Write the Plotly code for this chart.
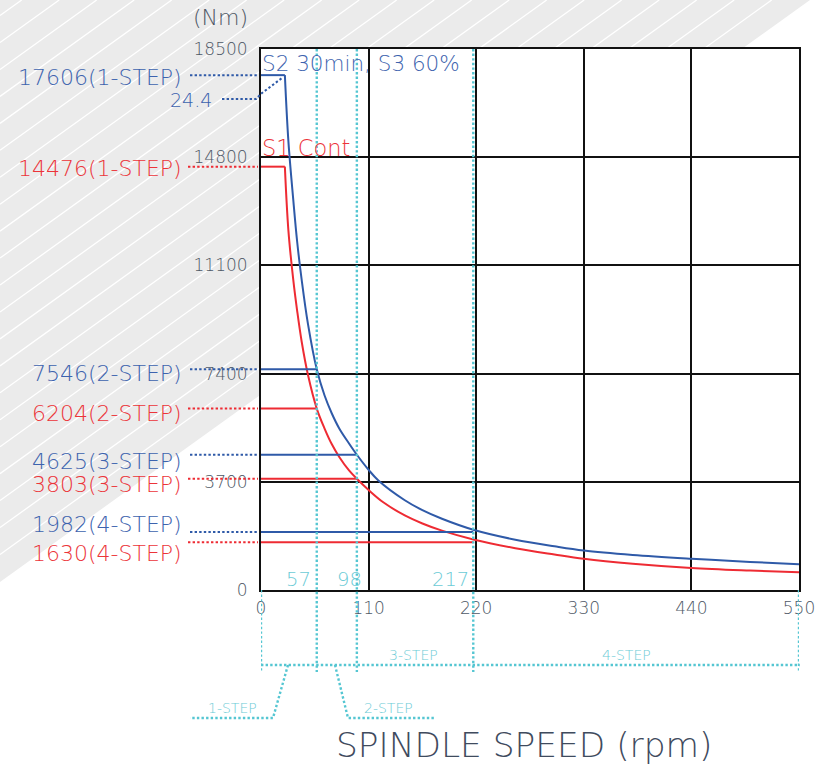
import plotly.graph_objects as go

# ---- data -------------------------------------------------------------
steps = ["1-STEP", "2-STEP", "3-STEP", "4-STEP"]
step_speed = [57, 98, 217, 550]          # rpm at the end of each gear step
base_speed = 24.4                        # rpm where constant torque ends

s2_step_torque = [17606, 7546, 4625, 1982]   # S2 30min / S3 60% (Nm)
s1_step_torque = [14476, 6204, 3803, 1630]   # S1 continuous (Nm)

s2_rpm = [0, 24.4, 28, 33, 37, 41.6, 48, 57, 65, 72.3, 80, 90, 98, 110, 120, 147,
          165, 185, 217, 260, 300, 330, 380, 440, 500, 550]
s2_nm = [17606, 17606, 15350, 13338, 11900, 10602, 9100, 7546, 6650, 6045, 5525, 5010,
         4625, 4110, 3745, 3070, 2730, 2435, 2060, 1720, 1495, 1350, 1200, 1070, 960, 879]

s1_rpm = [0, 24.4, 28, 33, 37, 41.6, 48, 57, 65, 72.3, 80, 90, 98, 110, 125, 147,
          165, 185, 217, 260, 300, 330, 380, 440, 500, 550]
s1_nm = [14476, 14476, 12300, 10602, 9540, 8490, 7360, 6204, 5520, 4990, 4550, 4090,
         3803, 3420, 3000, 2550, 2275, 2030, 1730, 1430, 1215, 1068, 900, 755, 665, 605]

x_ticks = [0, 110, 220, 330, 440, 550]
y_ticks = [0, 3700, 7400, 11100, 14800, 18500]

# ---- style ------------------------------------------------------------
BLUE = "#2f5aa8"
BLUE_TXT = "#3d63ae"
RED = "#ee2b33"
RED_TXT = "#ec3439"
CYAN = "#55c6d2"
CYAN_TXT = "#6ccbd6"
GREY_TXT = "#4e5866"
FONT = "DejaVu Sans"
DOTS = "2.4px,2.2px"

W, H = 817, 766
L, R, T, B = 261, 799, 49, 590


def px(x):
    return (x - L) / (R - L)


def py(y):
    return (B - y) / (B - T)


fig = go.Figure()

# torque curves: flat part + falling constant-power part
for rpm, nm, col in ((s2_rpm, s2_nm, BLUE), (s1_rpm, s1_nm, RED)):
    fig.add_trace(go.Scatter(x=rpm[:2], y=nm[:2], mode="lines",
                             line=dict(color=col, width=2), hoverinfo="skip"))
    fig.add_trace(go.Scatter(x=rpm[1:], y=nm[1:], mode="lines",
                             line=dict(color=col, width=2, shape="spline", smoothing=1.0),
                             hoverinfo="skip"))

# horizontal step torque lines for steps 2..4
for i in range(1, 4):
    fig.add_trace(go.Scatter(x=[0, step_speed[i - 1]], y=[s2_step_torque[i]] * 2,
                             mode="lines", line=dict(color=BLUE, width=2), hoverinfo="skip"))
    fig.add_trace(go.Scatter(x=[0, step_speed[i - 1]], y=[s1_step_torque[i]] * 2,
                             mode="lines", line=dict(color=RED, width=2), hoverinfo="skip"))

shapes = []

# background: grey diagonal band with white pinstripes
shapes.append(dict(type="path", xref="paper", yref="paper", layer="below",
                   path=f"M {px(0)} {py(0)} L {px(810)} {py(0)} L {px(0)} {py(582)} Z",
                   fillcolor="#ebebeb", line=dict(width=0)))
slope = 582 / 810
xs = 471.7
while xs > 0:
    xs -= 37.5
xs += 37.5
while xs < 805:
    shapes.append(dict(type="line", xref="paper", yref="paper", layer="below",
                       x0=px(xs), y0=py(0), x1=px(0), y1=py(slope * xs),
                       line=dict(color="white", width=1.3)))
    xs += 37.5
# white plotting area over the band
shapes.append(dict(type="rect", xref="paper", yref="paper", layer="below",
                   x0=0, y0=0, x1=1, y1=1, fillcolor="white", line=dict(width=0)))

# cyan step boundaries through the plot
for s in step_speed[:3]:
    shapes.append(dict(type="line", xref="x", yref="paper", layer="above",
                       x0=s, x1=s, y0=1, y1=py(672),
                       line=dict(color=CYAN, width=2.4, dash=DOTS)))
for s in (0, step_speed[3]):
    shapes.append(dict(type="line", xref="x", yref="paper", layer="above",
                       x0=s, x1=s, y0=0, y1=py(671),
                       line=dict(color=CYAN, width=2.4, dash=DOTS)))
# step range bar below the axis
shapes.append(dict(type="line", xref="paper", yref="paper",
                   x0=px(261), x1=px(800), y0=py(665), y1=py(665),
                   line=dict(color=CYAN, width=2.4, dash=DOTS)))
shapes.append(dict(type="path", xref="paper", yref="paper",
                   path=f"M {px(288)} {py(665)} L {px(273)} {py(718)} L {px(190)} {py(718)}",
                   line=dict(color=CYAN, width=2.4, dash=DOTS)))
shapes.append(dict(type="path", xref="paper", yref="paper",
                   path=f"M {px(335)} {py(665)} L {px(348)} {py(718)} L {px(435)} {py(718)}",
                   line=dict(color=CYAN, width=2.4, dash=DOTS)))

# leader lines from torque labels to the axis
for v in s2_step_torque:
    shapes.append(dict(type="line", xref="paper", yref="y", x0=px(190), x1=px(258), y0=v, y1=v,
                       line=dict(color=BLUE, width=2, dash=DOTS)))
for v in s1_step_torque:
    shapes.append(dict(type="line", xref="paper", yref="y", x0=px(188), x1=px(258), y0=v, y1=v,
                       line=dict(color=RED, width=2, dash=DOTS)))
shapes.append(dict(type="path", xref="paper", yref="paper",
                   path=f"M {px(222)} {py(99)} L {px(256)} {py(99)} L {px(262)} {py(93)} L {px(282)} {py(78)}",
                   line=dict(color=BLUE, width=2, dash=DOTS)))

annotations = []


def note(text, x, y, color, size, xanchor="center", yanchor="middle", weight=200):
    annotations.append(dict(text=text, x=px(x), y=py(y), xref="paper", yref="paper",
                            xanchor=xanchor, yanchor=yanchor, showarrow=False,
                            font=dict(family=FONT, size=size, color=color, weight=weight)))


s2_text_y = [77, 373, 461, 524]
s1_text_y = [168, 413, 484, 553]
for i in range(4):
    note(f"{s2_step_torque[i]}({steps[i]})", 184, s2_text_y[i], BLUE_TXT, 22, xanchor="right")
    note(f"{s1_step_torque[i]}({steps[i]})", 184, s1_text_y[i], RED_TXT, 22, xanchor="right")
note(f"{base_speed}", 214, 100, BLUE_TXT, 19, xanchor="right")

note("S2 30min, S3 60%", 260, 63, BLUE_TXT, 21.5, xanchor="left")
note("S1 Cont", 260, 148, RED_TXT, 22.5, xanchor="left")

# step speed values just inside the axis
note(str(step_speed[0]), 313, 579, CYAN_TXT, 19.5, xanchor="right")
note(str(step_speed[1]), 349, 579, CYAN_TXT, 19.5)
note(str(step_speed[2]), 471, 579, CYAN_TXT, 19.5, xanchor="right")

note(steps[0], 232, 708, CYAN_TXT, 14)
note(steps[1], 388, 708, CYAN_TXT, 14)
note(steps[2], 413, 655, CYAN_TXT, 14)
note(steps[3], 626, 655, CYAN_TXT, 14)

note("(Nm)", 220, 18, GREY_TXT, 22)
note("SPINDLE SPEED (rpm)", 524, 745, "#3f4b5e", 34.4)

tickfont = dict(family=FONT, size=17, color=GREY_TXT, weight=200)
fig.update_layout(
    width=W, height=H,
    margin=dict(l=L, r=W - R, t=T, b=H - B, pad=0, autoexpand=False),
    paper_bgcolor="white", plot_bgcolor="rgba(0,0,0,0)",
    showlegend=False,
    shapes=shapes, annotations=annotations,
    xaxis=dict(range=[0, 550], tickvals=x_ticks, ticktext=[str(v) for v in x_ticks],
               showgrid=True, gridcolor="#111", gridwidth=2, zeroline=False,
               showline=True, linecolor="#111", linewidth=2, mirror=True,
               ticks="", ticklabelstandoff=2, automargin=False, tickfont=tickfont),
    yaxis=dict(range=[0, 18500], tickvals=y_ticks, ticktext=[str(v) for v in y_ticks],
               showgrid=True, gridcolor="#111", gridwidth=2, zeroline=False,
               showline=True, linecolor="#111", linewidth=2, mirror=True,
               ticks="", ticklabelstandoff=8, automargin=False, tickfont=tickfont),
)

fig.write_html("out.html")
